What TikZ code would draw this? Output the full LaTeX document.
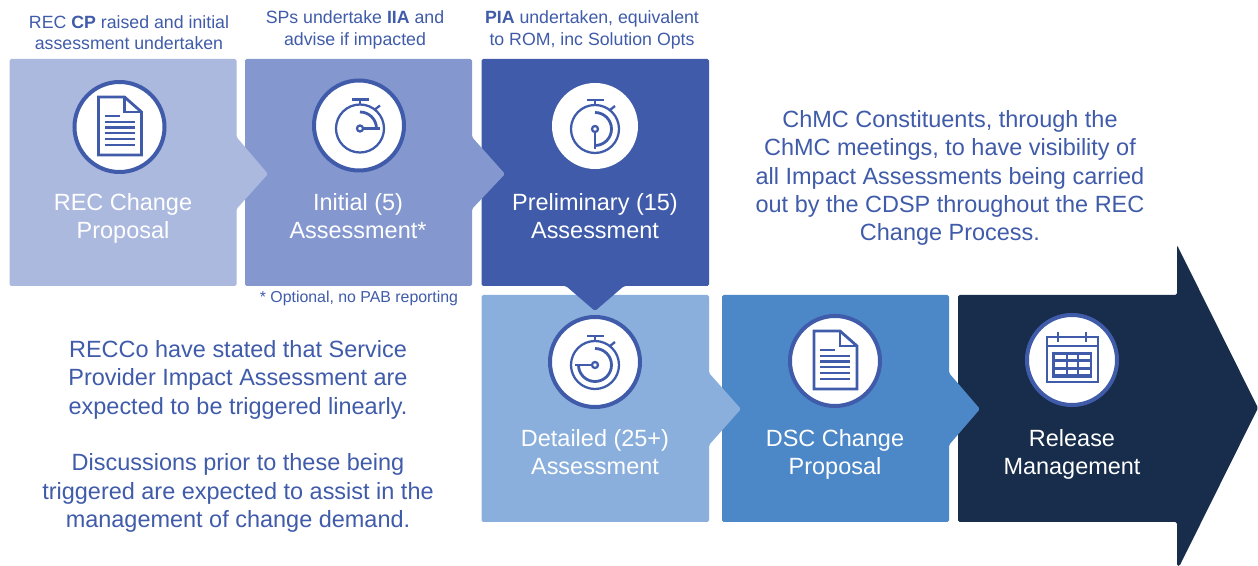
\documentclass[tikz,border=0pt]{standalone}
\usepackage{fontspec}
\setmainfont{Liberation Sans}

\definecolor{recblue}{HTML}{3F5BA9}
\definecolor{boxa}{HTML}{ABB9DF}
\definecolor{boxb}{HTML}{8498CF}
\definecolor{boxc}{HTML}{3F5BA9}
\definecolor{boxd}{HTML}{8AAFDC}
\definecolor{boxe}{HTML}{4C87C8}
\definecolor{boxf}{HTML}{172D4B}

\tikzset{
    stagebox/.style={rounded corners=1.2pt},
    badge/.style={fill=white,draw=recblue,line width=3pt},
    iconline/.style={draw=recblue,line width=2.1pt},
    iconthin/.style={draw=recblue,line width=1.7pt},
    stagetext/.style={text=white,align=center,font=\fontsize{17.6}{21.3}\selectfont},
    notetext/.style={text=recblue,align=center,font=\fontsize{17.6}{21.3}\selectfont},
    steptext/.style={text=recblue,align=center,font=\fontsize{13.3}{16}\selectfont},
}

\newcommand{\docicon}[2]{
    \begin{scope}[shift={(#1,#2)}]
        \draw[iconline,line join=miter] (-21,-30) -- (5,-30) -- (22,-15) -- (22,28) -- (-21,28) -- cycle;
        \draw[iconthin] (5,-30) -- (5,-15) -- (22,-15);
        \draw[iconline] (-15,-11) -- (0,-11);
        \draw[iconline] (-15,-5) -- (15,-5);
        \draw[iconline] (-15,0.5) -- (15,0.5);
        \draw[iconline] (-15,6) -- (15,6);
        \draw[iconline] (-15,12) -- (15,12);
        \draw[iconline] (-15,18) -- (15,18);
    \end{scope}
}
% stopwatch, #3 is where the hand stops
\newcommand{\watchicon}[3]{
    \begin{scope}[shift={(#1,#2)}]
        \draw[iconthin] (0,0) circle (24);
        \draw[iconline] (-8,-29) -- (9,-29);
        \draw[iconthin] (0,-29) -- (0,-24);
        \draw[iconthin] (15,-19) -- (20,-23);
        \draw[iconline] (0,-16.5) arc (-90:#3:16.5);
        \draw[iconline] (#3:3) -- (#3:20);
        \draw[iconthin,fill=white] (0,0) circle (3);
    \end{scope}
}
\newcommand{\calicon}[2]{
    \begin{scope}[shift={(#1,#2)}]
        \draw[iconline] (-25,-23) rectangle (26,22);
        \draw[iconthin] (-25,-14) -- (26,-14);
        \draw[iconthin] (-14,-28) -- (-14,-18);
        \draw[iconthin] (14,-28) -- (14,-18);
        \fill[recblue] (-20,-8) rectangle (20,18);
        \foreach \rowy in {-5,2.5,10} {
            \fill[white] (-17,\rowy) rectangle (-6.5,\rowy+4.5);
            \fill[white] (-4.5,\rowy) rectangle (4.5,\rowy+4.5);
            \fill[white] (7,\rowy) rectangle (17.5,\rowy+4.5);
        }
    \end{scope}
}

\begin{document}
\begin{tikzpicture}[x=0.75pt,y=-0.75pt]
    \useasboundingbox (0,0) rectangle (1258,566);

    \fill[boxf,stagebox] (958,295) -- (1177,295) -- (1177,245) -- (1258,408) -- (1179.5,566) -- (1177,566) -- (1177,522) -- (958,522) -- cycle;
    \fill[boxe,stagebox] (722,295) -- (949,295) -- (949,373) -- (980,409) -- (949,445) -- (949,522) -- (722,522) -- cycle;
    \fill[boxd,stagebox] (481.5,295) -- (709,295) -- (709,373) -- (741,409) -- (709,445) -- (709,522) -- (481.5,522) -- cycle;
    \fill[boxc,stagebox] (481.5,59) -- (709,59) -- (709,286) -- (624,286) -- (595,311) -- (566,286) -- (481.5,286) -- cycle;
    \fill[boxb,stagebox] (245,59) -- (472,59) -- (472,137) -- (505,174) -- (472,209) -- (472,286) -- (245,286) -- cycle;
    \fill[boxa,stagebox] (9.5,59) -- (236.5,59) -- (236.5,137) -- (268,174) -- (236.5,209) -- (236.5,286) -- (9.5,286) -- cycle;

    \draw[badge] (119.5,127) circle (45);
    \draw[badge] (359,125.5) circle (45);
    \fill[white] (595,126) circle (43);
    \draw[badge] (595,362) circle (45);
    \draw[badge] (835,361) circle (45);
    \draw[badge] (1072,360) circle (45);

    \docicon{119.5}{127}
    \watchicon{360}{128.5}{0}
    \watchicon{595}{129}{90}
    \watchicon{595}{365}{180}
    \docicon{835}{361}
    \calicon{1072}{360}

    \node[stagetext] (recchange) at (123,218.5) {REC Change\\Proposal};
    \node[stagetext] (initial) at (358,216) {Initial (5)\\Assessment*};
    \node[stagetext] (prelim) at (595,216) {Preliminary (15)\\Assessment};
    \node[stagetext] (detailed) at (595,452) {Detailed (25+)\\Assessment};
    \node[stagetext] (dscchange) at (835,454.5) {DSC Change\\Proposal};
    \node[stagetext] (release) at (1072,454.5) {Release\\Management};

    \node[steptext] (stepcp) at (129,33) {REC \textbf{CP} raised and initial\\assessment undertaken};
    \node[steptext] (stepiia) at (355,30) {SPs undertake \textbf{IIA} and\\advise if impacted};
    \node[steptext] (steppia) at (592,30) {\textbf{PIA} undertaken, equivalent\\to ROM, inc Solution Opts};
    \node[steptext,font=\fontsize{11.9}{14}\selectfont] (optional) at (359,298) {* Optional, no PAB reporting};

    \node[notetext] (chmc) at (950,178) {ChMC Constituents, through the\\ChMC meetings, to have visibility of\\all Impact Assessments being carried\\out by the CDSP throughout the REC\\Change Process.};
    \node[notetext] (recco) at (238,436.5) {RECCo have stated that Service\\Provider Impact Assessment are\\expected to be triggered linearly.\\[\baselineskip]Discussions prior to these being\\triggered are expected to assist in the\\management of change demand.};
\end{tikzpicture}
\end{document}
